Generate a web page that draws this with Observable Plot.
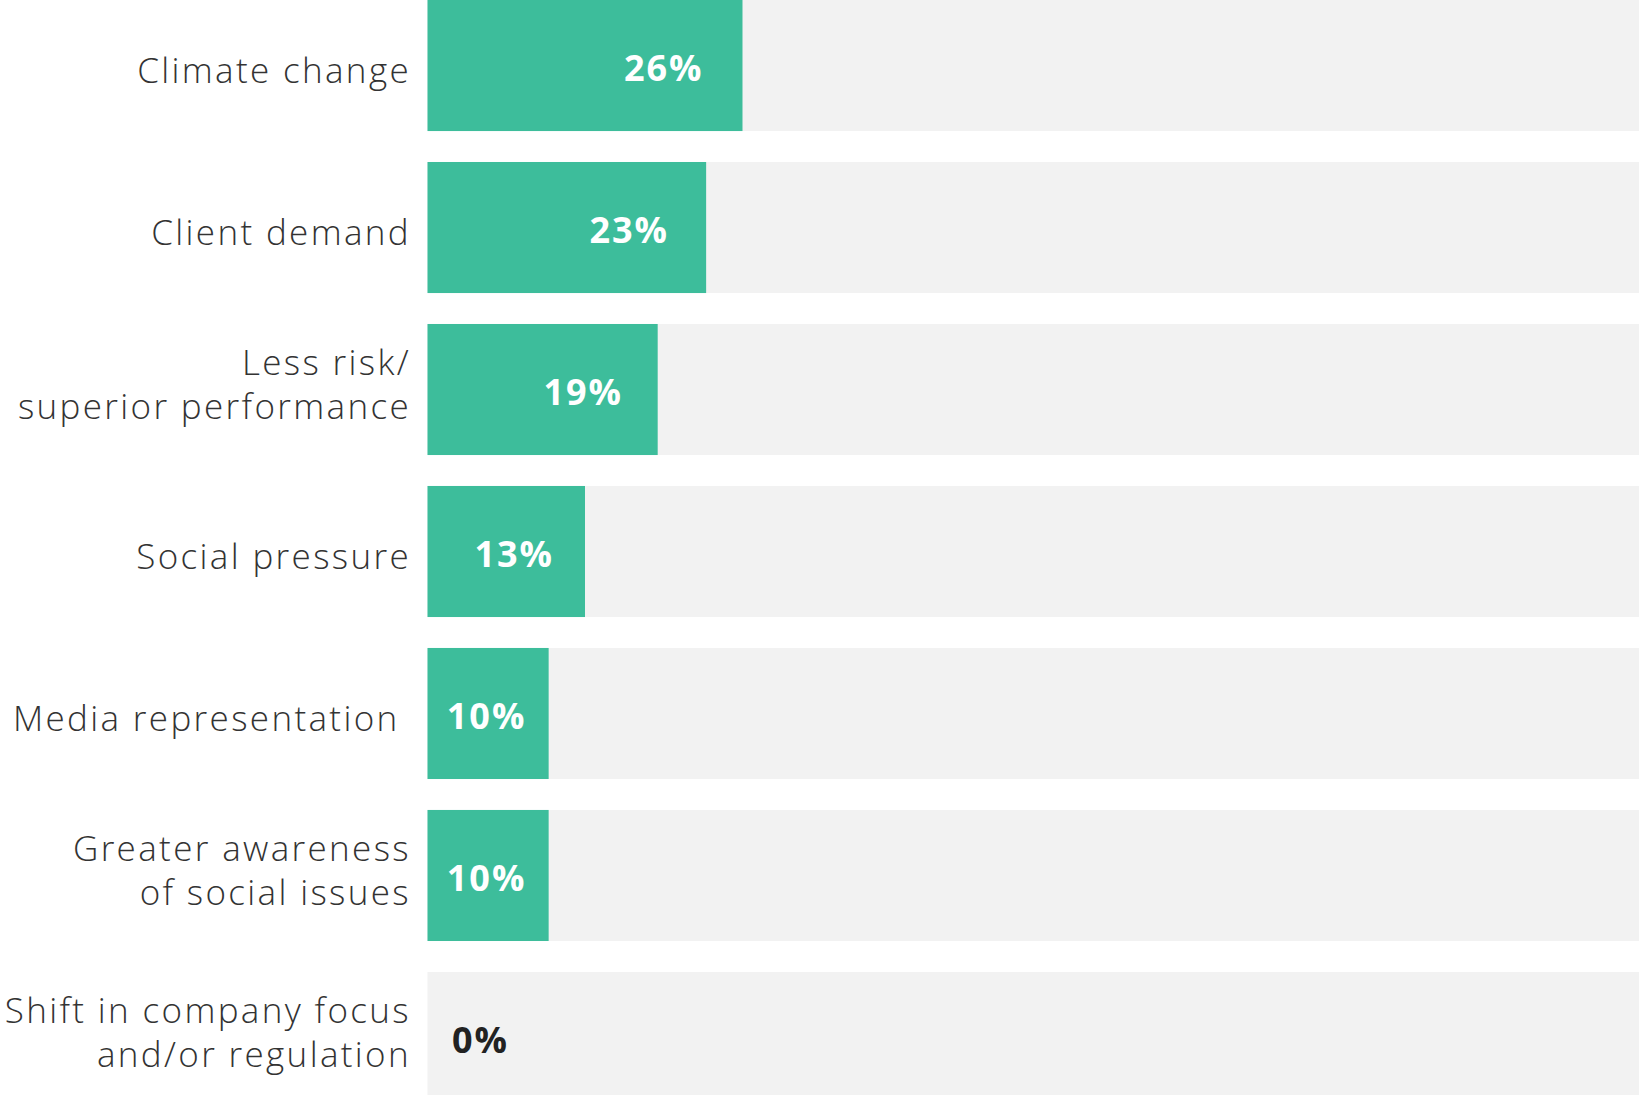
<!DOCTYPE html>
<html>
<head>
<meta charset="utf-8">
<script src="https://cdn.jsdelivr.net/npm/d3@7"></script>
<script src="https://cdn.jsdelivr.net/npm/@observablehq/plot@0.6"></script>
<style>
  html, body { margin: 0; padding: 0; background: #fff; overflow: hidden; }
  #chart svg { display: block; }
  .catlab, .catlab text { letter-spacing: 2.35px; }
  .vallab, .vallab text { letter-spacing: 2px; }
</style>
</head>
<body>
<div id="chart"></div>
<script>
const categories = [
  "Climate change",
  "Client demand",
  "Less risk/\nsuperior performance",
  "Social pressure",
  "Media representation\u00A0",
  "Greater awareness\nof social issues",
  "Shift in company focus\nand/or regulation"
];
const values = [26, 23, 19, 13, 10, 10, 0];
const valueLabels = ["26%", "23%", "19%", "13%", "10%", "10%", "0%"];

const data = categories.map((c, i) => ({category: c, value: values[i], label: valueLabels[i]}));
const singleLine = data.filter(d => !d.category.includes("\n"));
const multiLine = data.filter(d => d.category.includes("\n"));

const catText = {
  y: "category", x: 0, dx: -17, text: "category",
  textAnchor: "end", lineAnchor: "middle", lineHeight: 1.26,
  fontSize: 35, fontWeight: 300, fontFamily: "'Open Sans', sans-serif", fill: "#333",
  className: "catlab"
};

const chart = Plot.plot({
  width: 1639,
  height: 1095,
  marginLeft: 427.5,
  marginRight: 0,
  marginTop: 0,
  marginBottom: 0,
  style: {background: "#fff", overflow: "hidden"},
  x: {domain: [0, 100], axis: null},
  y: {domain: categories, range: [0, 1103], paddingInner: 0.191, paddingOuter: 0, align: 0, round: false, axis: null},
  marks: [
    Plot.barX(data, {y: "category", x1: 0, x2: 100, fill: "#f2f2f2"}),
    Plot.barX(data.filter(d => d.value > 0), {y: "category", x1: 0, x2: "value", fill: "#3dbd9b"}),
    Plot.text(singleLine, {...catText, dy: 3}),
    Plot.text(multiLine, {...catText, dy: -7}),
    Plot.text(data, {
      y: "category",
      x: d => d.value > 0 ? Math.max(0.949 * d.value - 5.3, 4.75) : 4.25,
      dx: 1, dy: 3, text: "label",
      textAnchor: "middle", lineAnchor: "middle",
      fontSize: 36, fontWeight: 700, fontFamily: "'Open Sans', sans-serif",
      className: "vallab",
      fill: d => d.value > 0 ? "#ffffff" : "#222222"
    })
  ]
});
document.getElementById("chart").append(chart);
</script>
</body>
</html>
